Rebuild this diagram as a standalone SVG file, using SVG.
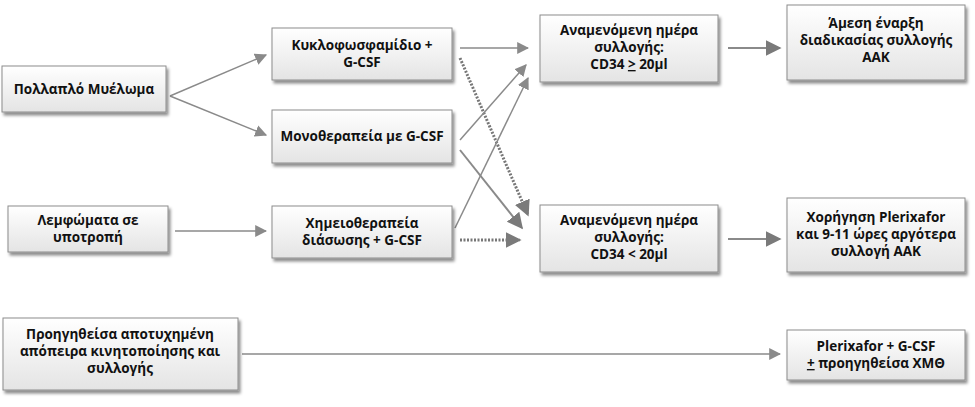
<svg xmlns="http://www.w3.org/2000/svg" width="975" height="407" viewBox="0 0 975 407">
<defs>
<linearGradient id="g" x1="0" y1="0" x2="0" y2="1"><stop offset="0" stop-color="#ffffff"/><stop offset="1" stop-color="#e4e4e4"/></linearGradient>
<filter id="sh" x="-10%" y="-10%" width="130%" height="140%"><feDropShadow dx="2" dy="3" stdDeviation="1.5" flood-color="#000" flood-opacity="0.45"/></filter>
<marker id="a" viewBox="0 0 10 10" refX="9" refY="5" markerWidth="12" markerHeight="12" markerUnits="userSpaceOnUse" orient="auto"><path d="M0,0L10,5L0,10z" fill="#8a8a8a"/></marker>
<marker id="b" viewBox="0 0 10 10" refX="9" refY="5" markerWidth="16" markerHeight="16" markerUnits="userSpaceOnUse" orient="auto"><path d="M0,0L10,5L0,10z" fill="#7a7a7a"/></marker>
</defs>
<style>
rect{fill:url(#g);stroke:#8c8c8c;stroke-width:1;filter:url(#sh)}
text{font-family:"Open Sans","DejaVu Sans",sans-serif;font-size:13.5px;font-weight:bold;fill:#111;text-anchor:middle}
.l{stroke:#8a8a8a;stroke-width:2;fill:none;marker-end:url(#a)}
.t{stroke-width:1.5}
.d{stroke:#777;stroke-width:3;stroke-dasharray:2 1.5;marker-end:url(#b)}
.w{marker-end:url(#b)}
</style>
<g id="connectors">
<line class="l t" x1="170" y1="96" x2="266" y2="55"/>
<line class="l t" x1="170" y1="96" x2="266" y2="135"/>
<line class="l t" x1="175" y1="231" x2="266" y2="231"/>
<line class="l t" x1="460" y1="48" x2="528" y2="48"/>
<line class="l d" x1="460" y1="58" x2="528" y2="215"/>
<line class="l t" x1="460" y1="140" x2="526" y2="65"/>
<line class="l w" x1="460" y1="150" x2="522" y2="228"/>
<line class="l t" x1="455" y1="228" x2="528" y2="78"/>
<line class="l d" x1="460" y1="240" x2="520" y2="240"/>
<line class="l w" x1="728" y1="48" x2="780" y2="48"/>
<line class="l w" x1="728" y1="239" x2="780" y2="239"/>
<line class="l t" x1="242" y1="354" x2="780" y2="354"/>
</g>
<g id="n1"><rect x="2" y="66" width="164" height="46"/><text x="84" y="94">Πολλαπλό Μυέλωμα</text></g>
<g id="n2"><rect x="8" y="206" width="160" height="46"/><text x="88" y="225">Λεμφώματα σε</text><text x="88" y="242">υποτροπή</text></g>
<g id="n3"><rect x="272" y="28" width="180" height="52"/><text x="362" y="50">Κυκλοφωσφαμίδιο +</text><text x="362" y="67">G-CSF</text></g>
<g id="n4"><rect x="272" y="110" width="180" height="53"/><text x="362" y="141">Μονοθεραπεία με G-CSF</text></g>
<g id="n5"><rect x="272" y="206" width="180" height="52"/><text x="362" y="228">Χημειοθεραπεία</text><text x="362" y="245">διάσωσης + G-CSF</text></g>
<g id="n6"><rect x="540" y="15" width="178" height="67"/><text x="629" y="35">Αναμενόμενη ημέρα</text><text x="629" y="52">συλλογής:</text><text x="629" y="69">CD34 <tspan text-decoration="underline">&gt;</tspan> 20μl</text></g>
<g id="n7"><rect x="540" y="205" width="178" height="67"/><text x="629" y="225">Αναμενόμενη ημέρα</text><text x="629" y="242">συλλογής:</text><text x="629" y="259">CD34 &lt; 20μl</text></g>
<g id="n8"><rect x="787" y="5" width="178" height="75"/><text x="876" y="28">Άμεση έναρξη</text><text x="876" y="45">διαδικασίας συλλογής</text><text x="876" y="62">ΑΑΚ</text></g>
<g id="n9"><rect x="787" y="198" width="178" height="74"/><text x="876" y="222">Χορήγηση Plerixafor</text><text x="876" y="239">και 9-11 ώρες αργότερα</text><text x="876" y="256">συλλογή ΑΑΚ</text></g>
<g id="n10"><rect x="3" y="318" width="235" height="72"/><text x="120" y="339">Προηγηθείσα αποτυχημένη</text><text x="120" y="356">απόπειρα κινητοποίησης και</text><text x="120" y="373">συλλογής</text></g>
<g id="n11"><rect x="787" y="330" width="178" height="50"/><text x="876" y="351">Plerixafor + G-CSF</text><text x="876" y="368"><tspan text-decoration="underline">+</tspan> προηγηθείσα ΧΜΘ</text></g>
</svg>
